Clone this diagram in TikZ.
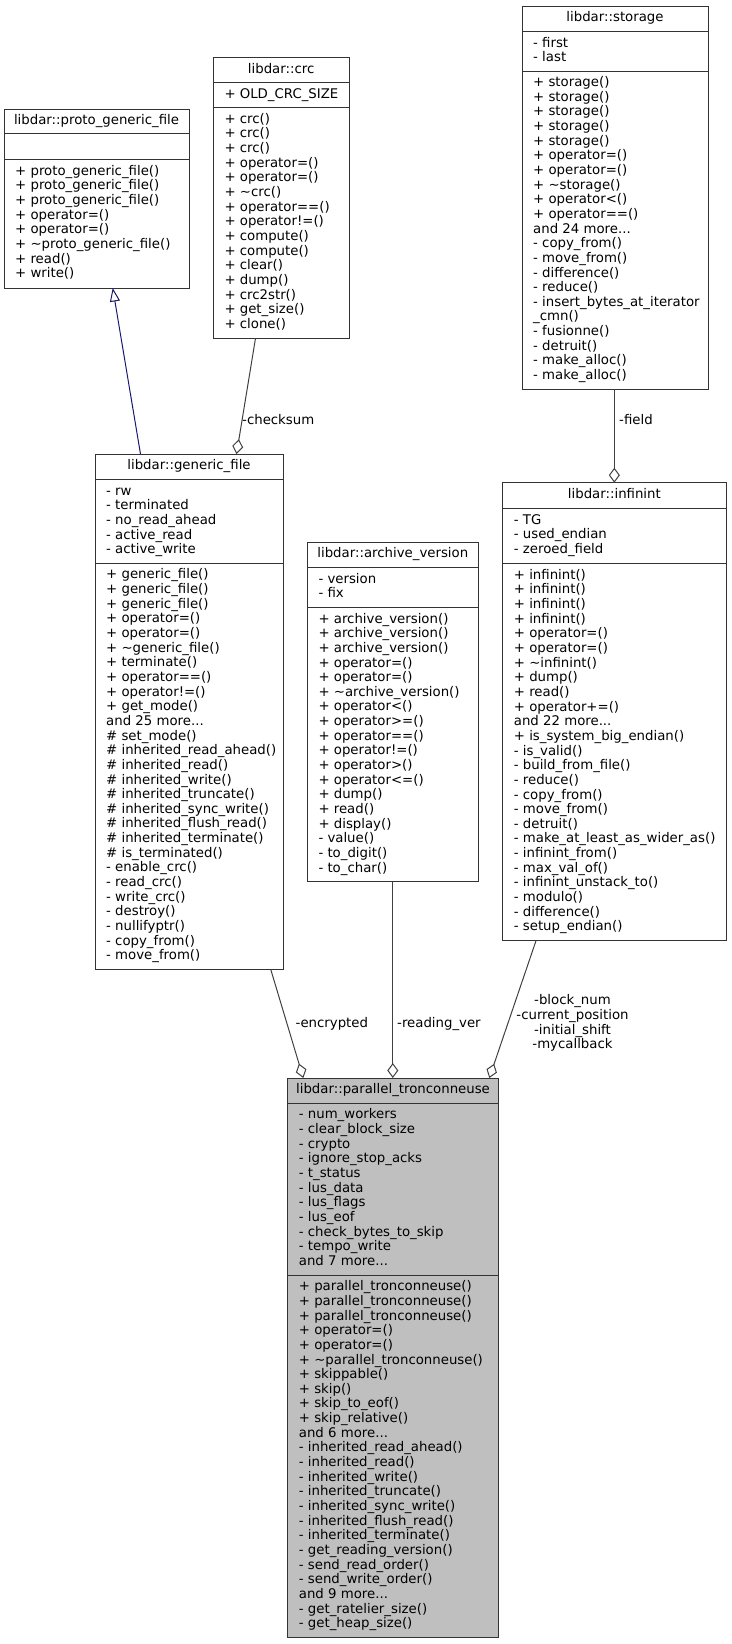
\documentclass[tikz,border=0pt]{standalone}
\usepackage{fontspec}
\setmainfont{DejaVu Sans}
\usetikzlibrary{arrows.meta,calc}
\definecolor{bord}{HTML}{333333}
\definecolor{edgec}{HTML}{404040}
\definecolor{inhc}{HTML}{191970}
\definecolor{focusfill}{HTML}{BFBFBF}
\newcommand\ml{\rule[-4.25pt]{0pt}{14.65pt}}
\tikzset{
 comp/.style={draw=bord, line width=1pt, fill=white, inner sep=0pt, outer sep=0pt, anchor=north west, font=\fontsize{13.3}{14.65}\selectfont},
 fcomp/.style={comp, fill=focusfill},
 memb/.style={inner sep=0pt, anchor=west, align=left, font=\fontsize{13.3}{14.65}\selectfont},
 elabel/.style={inner sep=0pt, font=\fontsize{13.3}{14.65}\selectfont},
 agg/.style={draw=edgec, line width=1pt, -{Diamond[open, length=15pt, width=11pt]}},
 inh/.style={draw=inhc, line width=1pt, -{Triangle[open, length=13.5pt, width=10pt]}},
}
\begin{document}
\begin{tikzpicture}[x=1pt,y=-1pt]
\useasboundingbox (0,0) rectangle (731,1644);

% ---------- proto_generic_file
\node[comp, minimum width=185pt, minimum height=24pt] (pg-t) at (4,109) {\ml libdar::proto\_generic\_file};
\node[comp, minimum width=185pt, minimum height=26pt] (pg-a) at (pg-t.south west) {};
\node[comp, minimum width=185pt, minimum height=129pt] (pg-m) at (pg-a.south west) {};
\node[memb] (pg-mt) at ([xshift=11pt]pg-m.west) {\ml + proto\_generic\_file()\\ \ml + proto\_generic\_file()\\ \ml + proto\_generic\_file()\\ \ml + operator=()\\ \ml + operator=()\\ \ml + \textasciitilde proto\_generic\_file()\\ \ml + read()\\ \ml + write()};

% ---------- crc
\node[comp, minimum width=135.7pt, minimum height=25.4pt] (crc-t) at (213.3,57.3) {\ml libdar::crc};
\node[comp, minimum width=135.7pt, minimum height=24.6pt] (crc-a) at (crc-t.south west) {};
\node[memb] (crc-at) at ([xshift=11pt]crc-a.west) {\ml + OLD\_CRC\_SIZE};
\node[comp, minimum width=135.7pt, minimum height=231pt] (crc-m) at (crc-a.south west) {};
\node[memb] (crc-mt) at ([xshift=11pt]crc-m.west) {\ml + crc()\\ \ml + crc()\\ \ml + crc()\\ \ml + operator=()\\ \ml + operator=()\\ \ml + \textasciitilde crc()\\ \ml + operator==()\\ \ml + operator!=()\\ \ml + compute()\\ \ml + compute()\\ \ml + clear()\\ \ml + dump()\\ \ml + crc2str()\\ \ml + get\_size()\\ \ml + clone()};

% ---------- storage
\node[comp, minimum width=186pt, minimum height=25.5pt] (st-t) at (522,6) {\ml libdar::storage};
\node[comp, minimum width=186pt, minimum height=39.5pt] (st-a) at (st-t.south west) {};
\node[memb] (st-at) at ([xshift=11pt]st-a.west) {\ml - first\\ \ml - last};
\node[comp, minimum width=186pt, minimum height=318pt] (st-m) at (st-a.south west) {};
\node[memb] (st-mt) at ([xshift=11pt]st-m.west) {\ml + storage()\\ \ml + storage()\\ \ml + storage()\\ \ml + storage()\\ \ml + storage()\\ \ml + operator=()\\ \ml + operator=()\\ \ml + \textasciitilde storage()\\ \ml + operator<()\\ \ml + operator==()\\ \ml and 24 more...\\ \ml - copy\_from()\\ \ml - move\_from()\\ \ml - difference()\\ \ml - reduce()\\ \ml - insert\_bytes\_at\_iterator\\ \ml \_cmn()\\ \ml - fusionne()\\ \ml - detruit()\\ \ml - make\_alloc()\\ \ml - make\_alloc()};

% ---------- generic_file
\node[comp, minimum width=188pt, minimum height=25.3pt] (gf-t) at (95,454) {\ml libdar::generic\_file};
\node[comp, minimum width=188pt, minimum height=84pt] (gf-a) at (gf-t.south west) {};
\node[memb] (gf-at) at ([xshift=11pt]gf-a.west) {\ml - rw\\ \ml - terminated\\ \ml - no\_read\_ahead\\ \ml - active\_read\\ \ml - active\_write};
\node[comp, minimum width=188pt, minimum height=406pt] (gf-m) at (gf-a.south west) {};
\node[memb] (gf-mt) at ([xshift=11pt]gf-m.west) {\ml + generic\_file()\\ \ml + generic\_file()\\ \ml + generic\_file()\\ \ml + operator=()\\ \ml + operator=()\\ \ml + \textasciitilde generic\_file()\\ \ml + terminate()\\ \ml + operator==()\\ \ml + operator!=()\\ \ml + get\_mode()\\ \ml and 25 more...\\ \ml \# set\_mode()\\ \ml \# inherited\_read\_ahead()\\ \ml \# inherited\_read()\\ \ml \# inherited\_write()\\ \ml \# inherited\_truncate()\\ \ml \# inherited\_sync\_write()\\ \ml \# inherited\_flush\_read()\\ \ml \# inherited\_terminate()\\ \ml \# is\_terminated()\\ \ml - enable\_crc()\\ \ml - read\_crc()\\ \ml - write\_crc()\\ \ml - destroy()\\ \ml - nullifyptr()\\ \ml - copy\_from()\\ \ml - move\_from()};

% ---------- archive_version
\node[comp, minimum width=171pt, minimum height=25pt] (av-t) at (307.3,542.3) {\ml libdar::archive\_version};
\node[comp, minimum width=171pt, minimum height=40pt] (av-a) at (av-t.south west) {};
\node[memb] (av-at) at ([xshift=11pt]av-a.west) {\ml - version\\ \ml - fix};
\node[comp, minimum width=171pt, minimum height=274.4pt] (av-m) at (av-a.south west) {};
\node[memb] (av-mt) at ([xshift=11pt]av-m.west) {\ml + archive\_version()\\ \ml + archive\_version()\\ \ml + archive\_version()\\ \ml + operator=()\\ \ml + operator=()\\ \ml + \textasciitilde archive\_version()\\ \ml + operator<()\\ \ml + operator>=()\\ \ml + operator==()\\ \ml + operator!=()\\ \ml + operator>()\\ \ml + operator<=()\\ \ml + dump()\\ \ml + read()\\ \ml + display()\\ \ml - value()\\ \ml - to\_digit()\\ \ml - to\_char()};

% ---------- infinint
\node[comp, minimum width=223.3pt, minimum height=25.6pt] (in-t) at (502.7,482.7) {\ml libdar::infinint};
\node[comp, minimum width=223.3pt, minimum height=55pt] (in-a) at (in-t.south west) {};
\node[memb] (in-at) at ([xshift=11pt]in-a.west) {\ml - TG\\ \ml - used\_endian\\ \ml - zeroed\_field};
\node[comp, minimum width=223.3pt, minimum height=377.4pt] (in-m) at (in-a.south west) {};
\node[memb] (in-mt) at ([xshift=11pt]in-m.west) {\ml + infinint()\\ \ml + infinint()\\ \ml + infinint()\\ \ml + infinint()\\ \ml + operator=()\\ \ml + operator=()\\ \ml + \textasciitilde infinint()\\ \ml + dump()\\ \ml + read()\\ \ml + operator+=()\\ \ml and 22 more...\\ \ml + is\_system\_big\_endian()\\ \ml - is\_valid()\\ \ml - build\_from\_file()\\ \ml - reduce()\\ \ml - copy\_from()\\ \ml - move\_from()\\ \ml - detruit()\\ \ml - make\_at\_least\_as\_wider\_as()\\ \ml - infinint\_from()\\ \ml - max\_val\_of()\\ \ml - infinint\_unstack\_to()\\ \ml - modulo()\\ \ml - difference()\\ \ml - setup\_endian()};

% ---------- parallel_tronconneuse (focus)
\node[fcomp, minimum width=210.6pt, minimum height=25.3pt] (pt-t) at (287.7,1078) {\ml libdar::parallel\_tronconneuse};
\node[fcomp, minimum width=210.6pt, minimum height=171.7pt] (pt-a) at (pt-t.south west) {};
\node[memb] (pt-at) at ([xshift=11pt]pt-a.west) {\ml - num\_workers\\ \ml - clear\_block\_size\\ \ml - crypto\\ \ml - ignore\_stop\_acks\\ \ml - t\_status\\ \ml - lus\_data\\ \ml - lus\_flags\\ \ml - lus\_eof\\ \ml - check\_bytes\_to\_skip\\ \ml - tempo\_write\\ \ml and 7 more...};
\node[fcomp, minimum width=210.6pt, minimum height=362.3pt] (pt-m) at (pt-a.south west) {};
\node[memb] (pt-mt) at ([xshift=11pt]pt-m.west) {\ml + parallel\_tronconneuse()\\ \ml + parallel\_tronconneuse()\\ \ml + parallel\_tronconneuse()\\ \ml + operator=()\\ \ml + operator=()\\ \ml + \textasciitilde parallel\_tronconneuse()\\ \ml + skippable()\\ \ml + skip()\\ \ml + skip\_to\_eof()\\ \ml + skip\_relative()\\ \ml and 6 more...\\ \ml - inherited\_read\_ahead()\\ \ml - inherited\_read()\\ \ml - inherited\_write()\\ \ml - inherited\_truncate()\\ \ml - inherited\_sync\_write()\\ \ml - inherited\_flush\_read()\\ \ml - inherited\_terminate()\\ \ml - get\_reading\_version()\\ \ml - send\_read\_order()\\ \ml - send\_write\_order()\\ \ml and 9 more...\\ \ml - get\_ratelier\_size()\\ \ml - get\_heap\_size()};

% ---------- connectors
\draw[inh] ([xshift=45.5pt]gf-t.north west) -- ([xshift=108.7pt]pg-m.south west);
\draw[agg] ([xshift=42.2pt]crc-m.south west) -- ([xshift=141.5pt]gf-t.north west);
\draw[agg] (in-t.north |- st-m.south) -- (in-t.north);
\draw[agg] ([xshift=175.7pt]gf-m.south west) -- ([xshift=15.6pt]pt-t.north west);
\draw[agg] (av-m.south) -- (av-m.south |- pt-t.north);
\draw[agg] ([xshift=33.3pt]in-m.south west) -- ([xshift=201.6pt]pt-t.north west);

% ---------- edge labels
\node[elabel, anchor=base west] (l-cks) at (242,424.7) {-checksum};
\node[elabel, anchor=base west] (l-fld) at (619,424.7) {-field};
\node[elabel, anchor=base west] (l-enc) at (295.5,1027) {-encrypted};
\node[elabel, anchor=base west] (l-rv) at (397,1027) {-reading\_ver};
\node[elabel, anchor=north, align=center] (l-inf) at (572.5,994.3) {\ml -block\_num\\ \ml -current\_position\\ \ml -initial\_shift\\ \ml -mycallback};
\end{tikzpicture}
\end{document}
